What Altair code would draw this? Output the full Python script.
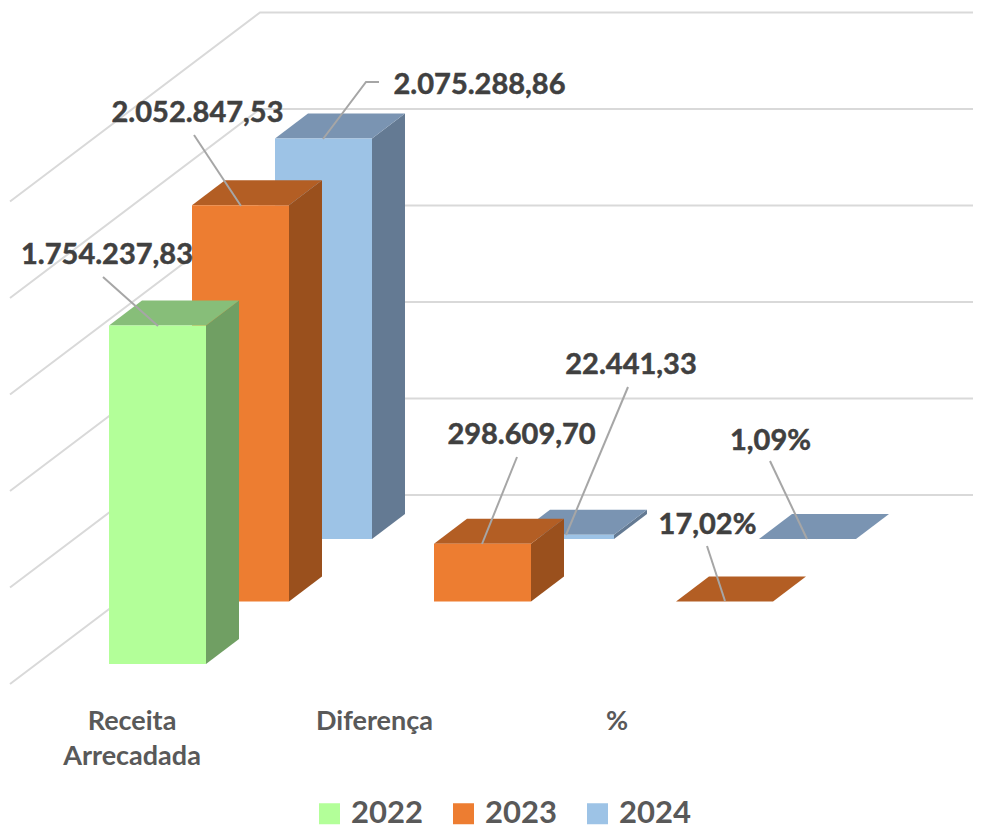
import altair as alt
import pandas as pd

categories = ["Receita Arrecadada", "Diferença", "%"]
category_lines = [["Receita", "Arrecadada"], ["Diferença"], ["%"]]
series = ["2022", "2023", "2024"]
values_2022 = [1754237.83, None, None]
values_2023 = [2052847.53, 298609.70, 0.1702]
values_2024 = [2075288.86, 22441.33, 0.0109]
labels_2022 = ["1.754.237,83", None, None]
labels_2023 = ["2.052.847,53", "298.609,70", "17,02%"]
labels_2024 = ["2.075.288,86", "22.441,33", "1,09%"]
front_colors = ["#B3FF99", "#ED7D31", "#9DC3E6"]
top_colors = ["#87BE79", "#B35E24", "#7A94B2"]
side_colors = ["#709F63", "#9A501D", "#647A93"]
grid_values = [0, 500000, 1000000, 1500000, 2000000, 2500000]

# projection of the 3-D chart
W, H = 965, 823
K = 0.000193          # px per unit
X0, CAT_STEP, SER_DX, SER_DY = 109, 242, 83, 62.5
BAR_W, DX, DY = 97, 33, 25
BASE = 664

def vy(px):           # pixel row -> value-space height
    return (BASE - px) / K

xs = alt.Scale(domain=[8, 8 + W], range=[0, W], nice=False, zero=False)
ys = alt.Scale(domain=[vy(8 + H), vy(8)], range=[H, 0], nice=False, zero=False)
X = lambda f: alt.X(f, type="quantitative", scale=xs, axis=None)
Y = lambda f: alt.Y(f, type="quantitative", scale=ys, axis=None)

all_values = [values_2022, values_2023, values_2024]
front, top, side = [], [], []
for s, vals in enumerate(all_values):
    for c, v in enumerate(vals):
        if v is None:
            continue
        left = X0 + c * CAT_STEP + s * SER_DX
        b = s * SER_DY / K
        d = DY / K
        key = f"{s}-{c}"
        front.append(dict(serie=series[s], s=s, x=left, x2=left + BAR_W, y=b + v, y2=b))
        top.append(dict(key=key, s=s, c=top_colors[s], y=b + v, x=left, x2=left + BAR_W))
        top.append(dict(key=key, s=s, c=top_colors[s], y=b + v + d, x=left + DX, x2=left + BAR_W + DX))
        side.append(dict(key=key, s=s, c=side_colors[s], x=left + BAR_W, y=b + v, y2=b))
        side.append(dict(key=key, s=s, c=side_colors[s], x=left + BAR_W + DX, y=b + v + d, y2=b + d))
front, top, side = pd.DataFrame(front), pd.DataFrame(top), pd.DataFrame(side)

# back wall + left wall gridlines
grid_rows = []
for g in grid_values:
    for x, dpx in [(10, 20), (260, -169), (973, -169)]:
        grid_rows.append(dict(g=g, x=x, y=g - dpx / K))
grid = alt.Chart(pd.DataFrame(grid_rows)).mark_line(color="#D9D9D9", strokeWidth=2).encode(
    x=X("x"), y=Y("y"), detail="g:N")

color_scale = alt.Scale(domain=series, range=front_colors)
legend = alt.Legend(
    title=None, orient="none", legendX=306, legendY=790, direction="horizontal", columns=3,
    symbolType="square", symbolSize=441, symbolStrokeWidth=0, symbolOpacity=1,
    labelFont="Lato", labelFontWeight="bold", labelFontSize=31, labelColor="#595959",
    labelOffset=6, columnPadding=25, gridAlign="all", padding=0)

layers = [grid]
for s in [2, 1, 0]:
    layers.append(alt.Chart(side[side.s == s]).mark_area(opacity=1).encode(
        x=X("x"), y=Y("y"), y2="y2", detail="key:N",
        fill=alt.Fill("c:N", scale=None, legend=None)))
    layers.append(alt.Chart(top[top.s == s]).mark_area(orient="horizontal", opacity=1).encode(
        y=Y("y"), x=X("x"), x2="x2", detail="key:N",
        fill=alt.Fill("c:N", scale=None, legend=None)))
    layers.append(alt.Chart(front[front.s == s]).mark_rect(opacity=1).encode(
        x=X("x"), x2="x2", y=Y("y"), y2="y2",
        color=alt.Color("serie:N", scale=color_scale, legend=legend)))

# data-label leader lines (pixel column, pixel row)
leaders = [
    [(323, 139), (366, 82), (379, 82)],
    [(194, 135), (241, 206)],
    [(103, 277), (158, 326)],
    [(517, 457), (482, 544)],
    [(628, 387), (566, 535)],
    [(770, 461), (807, 539)],
    [(707, 546), (725, 601)],
]
lead_rows = [dict(k=k, i=i, x=p[0], y=vy(p[1])) for k, pts in enumerate(leaders) for i, p in enumerate(pts)]
layers.append(alt.Chart(pd.DataFrame(lead_rows)).mark_line(color="#A6A6A6", strokeWidth=2).encode(
    x=X("x"), y=Y("y"), detail="k:N", order="i:Q"))

label_pos = {
    labels_2024[0]: (479.5, 85), labels_2023[0]: (197.5, 113), labels_2022[0]: (107, 255),
    labels_2023[1]: (521.5, 435), labels_2024[1]: (631, 365),
    labels_2024[2]: (770.5, 441), labels_2023[2]: (707.5, 525),
}
label_df = pd.DataFrame([dict(t=t, x=p[0], y=vy(p[1])) for t, p in label_pos.items()])
layers.append(alt.Chart(label_df).mark_text(
    font="Lato", fontWeight="bold", fontSize=29, color="#404040", stroke="#404040", strokeWidth=0.5,
    baseline="middle", align="center"
).encode(x=X("x"), y=Y("y"), text="t:N"))

cat_rows = []
for c, lines in enumerate(category_lines):
    for j, line in enumerate(lines):
        cat_rows.append(dict(t=line, x=132 + c * 242.5, y=vy(722 + j * 35)))
layers.append(alt.Chart(pd.DataFrame(cat_rows)).mark_text(
    font="Lato", fontWeight="bold", fontSize=27, color="#595959", baseline="middle", align="center"
).encode(x=X("x"), y=Y("y"), text="t:N"))

chart = alt.layer(*layers).properties(
    width=W, height=H, padding=0, autosize=alt.AutoSizeParams(type="none"), background="white"
).configure_view(stroke=None)

chart.save("out.html", embed_options={"renderer": "svg", "actions": False})
